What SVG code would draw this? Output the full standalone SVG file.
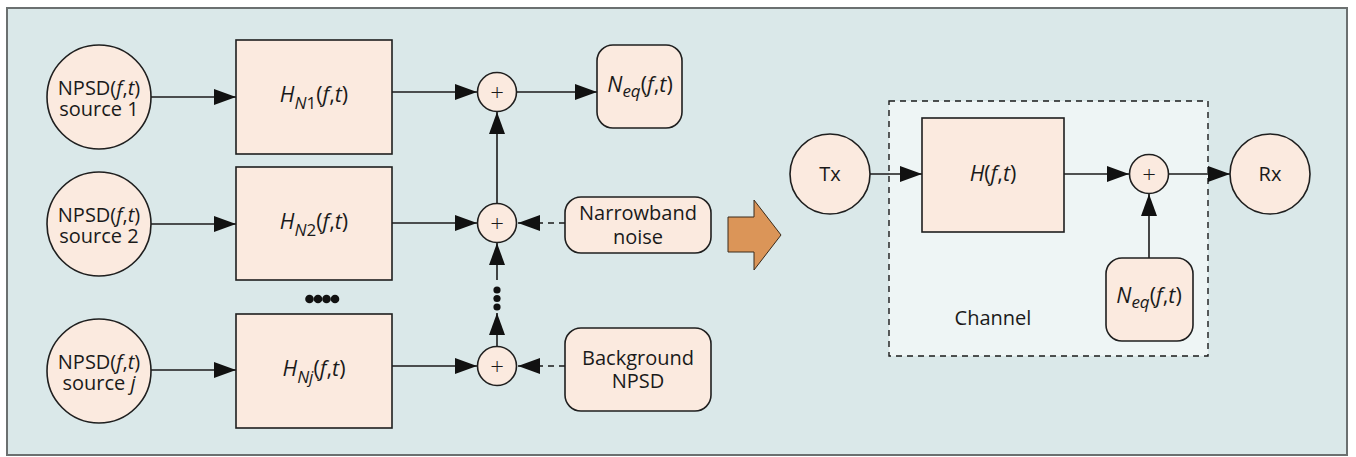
<svg xmlns="http://www.w3.org/2000/svg" width="1356" height="457" viewBox="0 0 1356 457">
<style>
  .node { fill: #fbeadf; stroke: #1f1f1f; stroke-width: 1.6; }
  .ln { stroke: #1a1a1a; stroke-width: 1.6; fill: none; }
  .dash { stroke-dasharray: 6 5; }
  text { font-family: "Open Sans", "Noto Sans", "DejaVu Sans", sans-serif; font-size: 20px; fill: #1a1a1a; }
  .it { font-style: italic; }
  .big { font-size: 21.5px; }
  .sub { font-size: 17px; }
  .plus { font-size: 24px; font-weight: 300; }
</style>
<defs>
  <marker id="arr" markerUnits="userSpaceOnUse" markerWidth="23" markerHeight="18" refX="22" refY="9" orient="auto">
    <path d="M0,1 L22,9 L0,17 z" fill="#111"/>
  </marker>
</defs>

<rect x="7" y="8" width="1340" height="447" fill="#dae8e9" stroke="#6b7070" stroke-width="2"/>

<g id="channel">
  <rect x="889" y="101" width="319" height="255" fill="#eef5f5" stroke="#1a1a1a" stroke-width="1.4" stroke-dasharray="6 5"/>
  <text x="993" y="325" text-anchor="middle" font-size="19">Channel</text>
</g>

<g id="connectors">
  <line class="ln" x1="151" y1="97" x2="236" y2="97" marker-end="url(#arr)"/>
  <line class="ln" x1="151" y1="224" x2="236" y2="224" marker-end="url(#arr)"/>
  <line class="ln" x1="151" y1="370" x2="236" y2="370" marker-end="url(#arr)"/>
  <line class="ln" x1="392" y1="92" x2="477" y2="92" marker-end="url(#arr)"/>
  <line class="ln" x1="392" y1="223" x2="477" y2="223" marker-end="url(#arr)"/>
  <line class="ln" x1="392" y1="366" x2="477" y2="366" marker-end="url(#arr)"/>
  <line class="ln" x1="517" y1="92" x2="597" y2="92" marker-end="url(#arr)"/>
  <line class="ln" x1="497" y1="203" x2="497" y2="112" marker-end="url(#arr)"/>
  <line class="ln dash" x1="565" y1="223" x2="518" y2="223" marker-end="url(#arr)"/>
  <line class="ln dash" x1="565" y1="366" x2="518" y2="366" marker-end="url(#arr)"/>
  <line class="ln" x1="497" y1="280" x2="497" y2="243" marker-end="url(#arr)"/>
  <line class="ln" x1="497" y1="346" x2="497" y2="313" marker-end="url(#arr)"/>
  <circle cx="497" cy="290" r="3.6" fill="#111"/>
  <circle cx="497" cy="298.5" r="3.6" fill="#111"/>
  <circle cx="497" cy="307" r="3.6" fill="#111"/>
  <circle cx="309.5" cy="299" r="4.3" fill="#111"/>
  <circle cx="318" cy="299" r="4.3" fill="#111"/>
  <circle cx="326.5" cy="299" r="4.3" fill="#111"/>
  <circle cx="335" cy="299" r="4.3" fill="#111"/>
  <line class="ln" x1="870" y1="174" x2="922" y2="174" marker-end="url(#arr)"/>
  <line class="ln" x1="1064" y1="174" x2="1129" y2="174" marker-end="url(#arr)"/>
  <line class="ln" x1="1169" y1="174" x2="1230" y2="174" marker-end="url(#arr)"/>
  <line class="ln" x1="1149" y1="258" x2="1149" y2="194" marker-end="url(#arr)"/>
</g>

<g id="bigArrow">
  <polygon points="728,217 754,217 754,200 781,235 754,270 754,252 728,252" fill="#db9558" stroke="#3a2a1a" stroke-width="1"/>
</g>

<g id="src1">
  <circle class="node" cx="99" cy="97" r="52"/>
  <text text-anchor="middle"><tspan x="99" y="95">NPSD(<tspan class="it">f</tspan>,<tspan class="it">t</tspan>)</tspan><tspan x="99" y="116">source 1</tspan></text>
</g>
<g id="src2">
  <circle class="node" cx="99" cy="224" r="52"/>
  <text text-anchor="middle"><tspan x="99" y="222">NPSD(<tspan class="it">f</tspan>,<tspan class="it">t</tspan>)</tspan><tspan x="99" y="243">source 2</tspan></text>
</g>
<g id="srcj">
  <circle class="node" cx="99" cy="371" r="52"/>
  <text text-anchor="middle"><tspan x="99" y="369">NPSD(<tspan class="it">f</tspan>,<tspan class="it">t</tspan>)</tspan><tspan x="99" y="390">source <tspan class="it">j</tspan></tspan></text>
</g>

<g id="hn1">
  <rect class="node" x="236" y="40" width="156" height="114"/>
  <text class="big" x="314" y="102" text-anchor="middle"><tspan class="it">H</tspan><tspan class="sub it" dy="7">N</tspan><tspan class="sub">1</tspan><tspan dy="-7">(</tspan><tspan class="it">f</tspan>,<tspan class="it">t</tspan>)</text>
</g>
<g id="hn2">
  <rect class="node" x="236" y="167" width="156" height="113"/>
  <text class="big" x="314" y="229" text-anchor="middle"><tspan class="it">H</tspan><tspan class="sub it" dy="7">N</tspan><tspan class="sub">2</tspan><tspan dy="-7">(</tspan><tspan class="it">f</tspan>,<tspan class="it">t</tspan>)</text>
</g>
<g id="hnj">
  <rect class="node" x="236" y="314" width="156" height="114"/>
  <text class="big" x="314" y="376" text-anchor="middle"><tspan class="it">H</tspan><tspan class="sub it" dy="7">Nj</tspan><tspan dy="-7">(</tspan><tspan class="it">f</tspan>,<tspan class="it">t</tspan>)</text>
</g>

<g id="sum1">
  <circle class="node" cx="497" cy="92" r="19.5"/>
  <text class="plus" x="497" y="100.5" text-anchor="middle">+</text>
</g>
<g id="sum2">
  <circle class="node" cx="497" cy="223" r="19.5"/>
  <text class="plus" x="497" y="231.5" text-anchor="middle">+</text>
</g>
<g id="sum3">
  <circle class="node" cx="497" cy="366" r="19.5"/>
  <text class="plus" x="497" y="374.5" text-anchor="middle">+</text>
</g>

<g id="neq1">
  <rect class="node" x="597" y="45" width="85" height="83" rx="16"/>
  <text class="big" x="640" y="92" text-anchor="middle"><tspan class="it">N</tspan><tspan class="sub it" dy="5">eq</tspan><tspan dy="-5">(</tspan><tspan class="it">f</tspan>,<tspan class="it">t</tspan>)</text>
</g>
<g id="narrowband">
  <rect class="node" x="565" y="197" width="146" height="56" rx="16"/>
  <text text-anchor="middle"><tspan x="638" y="220">Narrowband</tspan><tspan x="638" y="244">noise</tspan></text>
</g>
<g id="background">
  <rect class="node" x="565" y="328" width="146" height="83" rx="16"/>
  <text text-anchor="middle"><tspan x="638" y="365">Background</tspan><tspan x="638" y="388">NPSD</tspan></text>
</g>

<g id="tx">
  <circle class="node" cx="830" cy="174" r="40"/>
  <text x="830" y="181" text-anchor="middle">Tx</text>
</g>
<g id="h">
  <rect class="node" x="922" y="118" width="142" height="114"/>
  <text class="big" x="993" y="181" text-anchor="middle"><tspan class="it">H</tspan>(<tspan class="it">f</tspan>,<tspan class="it">t</tspan>)</text>
</g>
<g id="sum4">
  <circle class="node" cx="1149" cy="174" r="19.5"/>
  <text class="plus" x="1149" y="182.5" text-anchor="middle">+</text>
</g>
<g id="rx">
  <circle class="node" cx="1270" cy="174" r="40"/>
  <text x="1270" y="181" text-anchor="middle">Rx</text>
</g>
<g id="neq2">
  <rect class="node" x="1106" y="258" width="87" height="83" rx="16"/>
  <text class="big" x="1149" y="303" text-anchor="middle"><tspan class="it">N</tspan><tspan class="sub it" dy="5">eq</tspan><tspan dy="-5">(</tspan><tspan class="it">f</tspan>,<tspan class="it">t</tspan>)</text>
</g>
</svg>
